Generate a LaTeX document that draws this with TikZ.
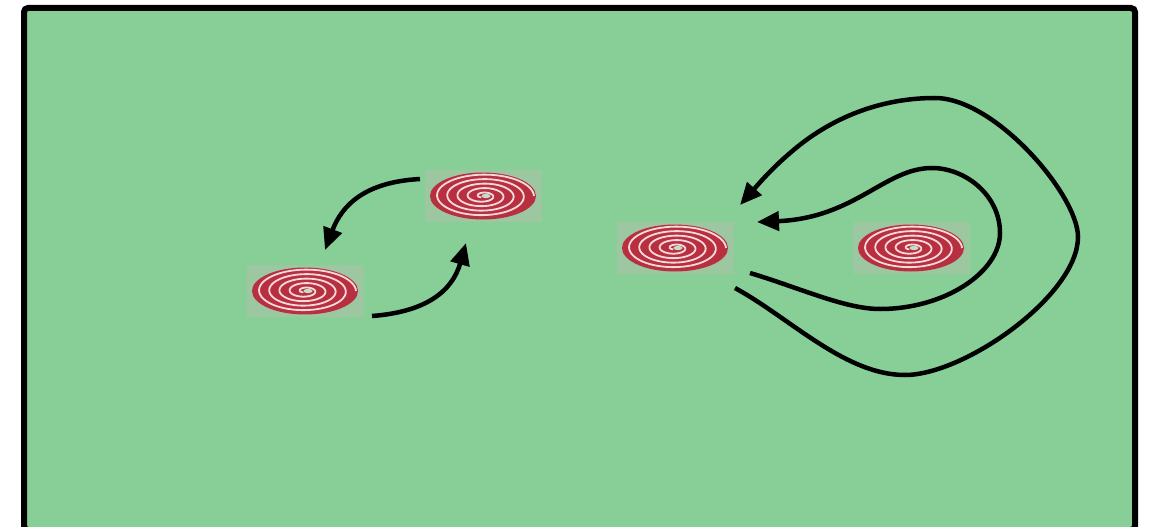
\documentclass[tikz,border=0pt]{standalone}
\usetikzlibrary{arrows.meta}
\definecolor{field}{HTML}{88CF97}
\definecolor{patch}{HTML}{9CC7A0}
\definecolor{swirlred}{HTML}{B8303F}
\definecolor{swirlwhite}{HTML}{F6D9DC}
\begin{document}
\begin{tikzpicture}[x=1pt,y=-1pt,
  flow/.style={line width=4.5pt,-{Triangle[length=22pt,width=19pt]}},
  swirl/.style={draw=none,fill=patch,minimum width=117pt,minimum height=52pt,inner sep=0pt,
    path picture={
      \begin{scope}[shift={(path picture bounding box.center)}]
        \fill[swirlred] (0,0) ellipse [x radius=53pt, y radius=23.5pt];
        \draw[swirlwhite,line width=1.8pt]
          plot[domain=120:1800,samples=300,variable=\t]
          ({51*(\t/1800)*cos(\t)},{22.5*(\t/1800)*sin(\t)});
        \fill[patch!60!white] (3,0) ellipse [x radius=4.5pt, y radius=2.2pt];
      \end{scope}}}]
  % page and framed field
  \useasboundingbox (0,0) rectangle (1149,527);
  \fill[white] (0,0) rectangle (1149,527);
  \draw[line width=6pt,fill=field,rounded corners=4pt] (24,8) rectangle (1135,530);

  % swirls
  \node[swirl] (s1) at (305,291) {};
  \node[swirl] (s2) at (483,196) {};
  \node[swirl] (s3) at (675,248) {};
  \node[swirl] (s4) at (911,248) {};

  % arrow end points
  \coordinate (a1) at (420,179);  \coordinate (a2) at (325,250);
  \coordinate (b1) at (372,316);  \coordinate (b2) at (466,243);
  \coordinate (c1) at (735,288);  \coordinate (c2) at (740,205);
  \coordinate (d1) at (750,273);  \coordinate (d2) at (757,222);

  % exchange between the two left swirls
  \draw[flow] (a1) .. controls (365,182) and (342,205) .. (a2);
  \draw[flow] (b1) .. controls (425,312) and (452,292) .. (b2);

  % outer loop round the right swirl
  \draw[flow] (c1) .. controls (790,318) and (845,375) .. (905,375)
    .. controls (965,375) and (1078,295) .. (1078,237)
    .. controls (1078,195) and (995,98) .. (935,98)
    .. controls (880,98) and (830,118) .. (790,153)
    .. controls (770,170) and (755,188) .. (c2);

  % inner loop round the right swirl
  \draw[flow] (d1) .. controls (800,288) and (845,309) .. (880,309)
    .. controls (945,309) and (1000,272) .. (1000,233)
    .. controls (1000,195) and (965,168) .. (932,168)
    .. controls (885,168) and (855,218) .. (d2);
\end{tikzpicture}
\end{document}
